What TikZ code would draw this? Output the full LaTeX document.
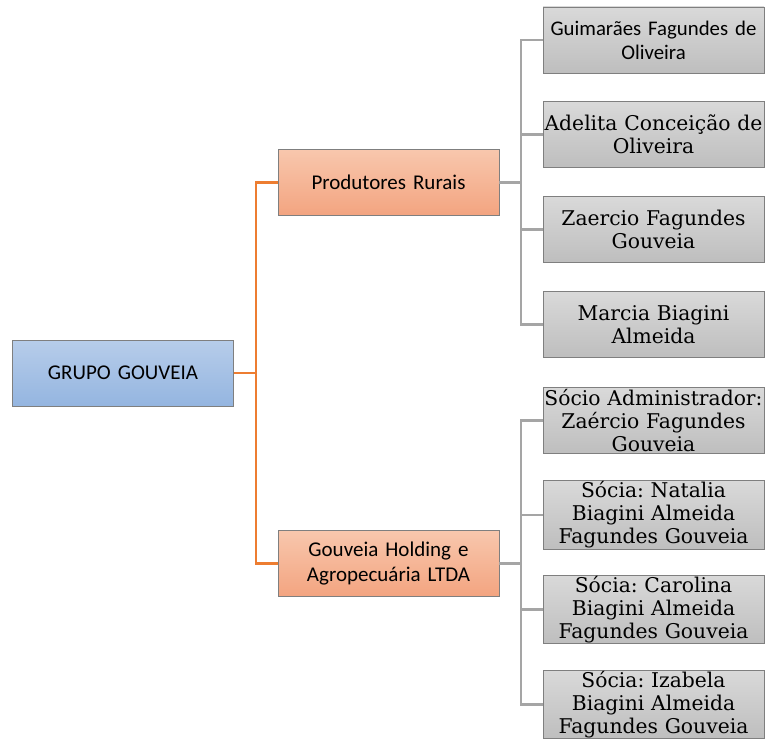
\documentclass[tikz,border=0pt]{standalone}
\usepackage{fontspec}
\setmainfont{Carlito}
\newfontfamily\serifbox{DejaVu Serif}
\frenchspacing
\definecolor{bluetop}{HTML}{B7CDEA}
\definecolor{bluebot}{HTML}{94B5E0}
\definecolor{orgtop}{HTML}{F8C7AD}
\definecolor{orgbot}{HTML}{F3A480}
\definecolor{graytop}{HTML}{D9D9D9}
\definecolor{graybot}{HTML}{BEBEBE}
\definecolor{orgline}{HTML}{ED7D31}
\definecolor{grayline}{HTML}{A5A5A5}
\definecolor{edgegray}{HTML}{7F7F7F}
\tikzset{
  base/.style={draw=edgegray, line width=0.8pt, minimum width=221pt, minimum height=66pt, inner sep=1pt, align=center, text width=219pt, anchor=center},
  rootbox/.style={base, top color=bluetop, bottom color=bluebot, font=\fontsize{21}{25}\selectfont},
  midbox/.style={base, top color=orgtop, bottom color=orgbot, font=\fontsize{21}{25}\selectfont},
  leafbox/.style={base, top color=graytop, bottom color=graybot},
  calleaf/.style={leafbox, font=\fontsize{20.8}{24}\selectfont},
  serleaf/.style={leafbox, font=\serifbox\fontsize{20.3}{23}\selectfont},
  orgconn/.style={draw=orgline, line width=2.2pt},
  grayconn/.style={draw=grayline, line width=2.2pt},
}
\begin{document}
\begin{tikzpicture}[x=1pt,y=-1pt]
\useasboundingbox (0,0) rectangle (767,741);
\node[rootbox] (root) at (123,373) {GRUPO GOUVEIA};
\node[midbox] (prod) at (388.5,182.5) {Produtores Rurais};
\node[midbox] (hold) at (388.5,563.5) {Gouveia Holding e\\Agropecuária LTDA};
\node[calleaf] (a1) at (653.5,40) {Guimarães Fagundes de\\Oliveira};
\node[serleaf] (a2) at (653.5,134.5) {Adelita Conceição de\\Oliveira};
\node[serleaf] (a3) at (653.5,229.5) {Zaercio Fagundes\\Gouveia};
\node[serleaf] (a4) at (653.5,324.5) {Marcia Biagini\\Almeida};
\node[serleaf] (b1) at (653.5,420.5) {Sócio Administrador:\\Zaércio Fagundes\\Gouveia};
\node[serleaf] (b2) at (653.5,515) {Sócia: Natalia\\Biagini Almeida\\Fagundes Gouveia};
\node[serleaf] (b3) at (653.5,609.5) {Sócia: Carolina\\Biagini Almeida\\Fagundes Gouveia};
\node[serleaf] (b4) at (653.5,704.5) {Sócia: Izabela\\Biagini Almeida\\Fagundes Gouveia};
% orange connectors
\coordinate (rj) at (256,373);
\draw[orgconn] (root.east) -- (rj);
\draw[orgconn] (prod.west) -| (rj);
\draw[orgconn] (hold.west) -| (rj);
% gray connectors group 1
\coordinate (pj) at (521,182.5);
\draw[grayconn] (prod.east) -- (pj);
\foreach \n in {a1,a2,a3,a4} \draw[grayconn] (\n.west) -| (pj);
% gray connectors group 2
\coordinate (hj) at (521,563.5);
\draw[grayconn] (hold.east) -- (hj);
\foreach \n in {b1,b2,b3,b4} \draw[grayconn] (\n.west) -| (hj);
\end{tikzpicture}
\end{document}
